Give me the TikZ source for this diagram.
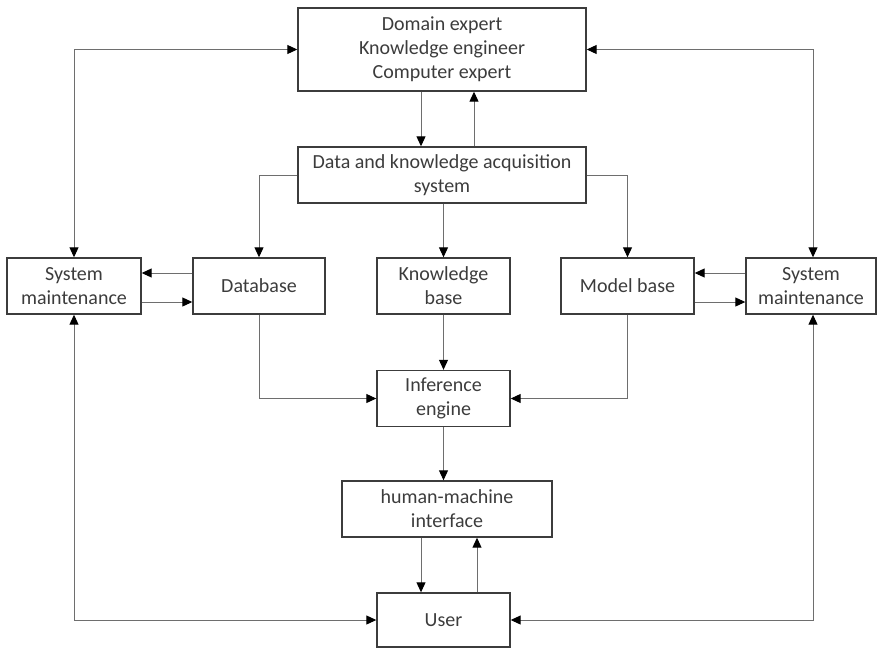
\documentclass[tikz,border=0pt]{standalone}
\usepackage{fontspec}
\setmainfont{Carlito}
\usepackage{xcolor}
\usetikzlibrary{arrows.meta}
\definecolor{boxgray}{HTML}{3C3C3C}
\definecolor{linegray}{HTML}{6E6E6E}
\tikzset{
  bloc/.style={draw=boxgray,line width=1.4pt,text=boxgray,align=center,inner sep=0pt,
    font=\fontsize{20}{24}\selectfont,minimum height=56pt},
  conn/.style={draw=linegray,line width=1pt,arrows={-{Triangle[length=10pt,width=9pt,color=black]}}},
  conn2/.style={draw=linegray,line width=1pt,arrows={{Triangle[length=10pt,width=9pt,color=black]}-{Triangle[length=10pt,width=9pt,color=black]}}}
}
\begin{document}
\begin{tikzpicture}[x=1pt,y=-1pt]
            \useasboundingbox (0,0) rectangle (877,648);
            \node[bloc,minimum width=288pt,minimum height=83pt] (expert) at (442,49.5) {Domain expert\\Knowledge engineer\\Computer expert};
            \node[bloc,minimum width=288pt] (acq) at (442,175) {Data and knowledge acquisition\\system};
            \node[bloc,minimum width=134pt] (sml) at (74,286) {System\\maintenance};
            \node[bloc,minimum width=132pt] (db) at (259,286) {Database};
            \node[bloc,minimum width=133pt] (kb) at (443.5,286) {Knowledge\\base};
            \node[bloc,minimum width=133pt] (mb) at (627.5,286) {Model base};
            \node[bloc,minimum width=130pt] (smr) at (811,286) {System\\maintenance};
            \node[bloc,minimum width=133pt] (inf) at (443.5,398.5) {Inference\\engine};
            \node[bloc,minimum width=210pt] (hmi) at (447,509) {human-machine\\interface};
            \node[bloc,minimum width=133pt,minimum height=54pt] (user) at (443.5,620) {User};
            % top part
            \draw[conn2] (sml.north) |- (expert.west);
            \draw[conn2] ([xshift=2pt]smr.north) |- (expert.east);
            \draw[conn] ([xshift=-21pt]expert.south) -- ([xshift=-21pt]expert.south |- acq.north);
            \draw[conn] ([xshift=32pt]acq.north) -- ([xshift=32pt]acq.north |- expert.south);
            \draw[conn] (acq.west) -| (db.north);
            \draw[conn] (kb.north |- acq.south) -- (kb.north);
            \draw[conn] (acq.east) -| (mb.north);
            % maintenance
            \draw[conn] ([yshift=13pt]db.west) -- ([yshift=13pt]sml.east);
            \draw[conn] ([yshift=-16pt]sml.east) -- ([yshift=-16pt]db.west);
            \draw[conn] ([yshift=13pt]smr.west) -- ([yshift=13pt]mb.east);
            \draw[conn] ([yshift=-16pt]mb.east) -- ([yshift=-16pt]smr.west);
            % inference
            \draw[conn] (db.south) |- (inf.west);
            \draw[conn] (kb.south) -- (inf.north);
            \draw[conn] (mb.south) |- (inf.east);
            \draw[conn] (inf.south) -- (inf.south |- hmi.north);
            \draw[conn] ([xshift=-22.5pt]user.north |- hmi.south) -- ([xshift=-22.5pt]user.north);
            \draw[conn] ([xshift=33.5pt]user.north) -- ([xshift=33.5pt]user.north |- hmi.south);
            % user
            \draw[conn2] (sml.south) |- (user.west);
            \draw[conn2] ([xshift=2pt]smr.south) |- (user.east);
\end{tikzpicture}
\end{document}
